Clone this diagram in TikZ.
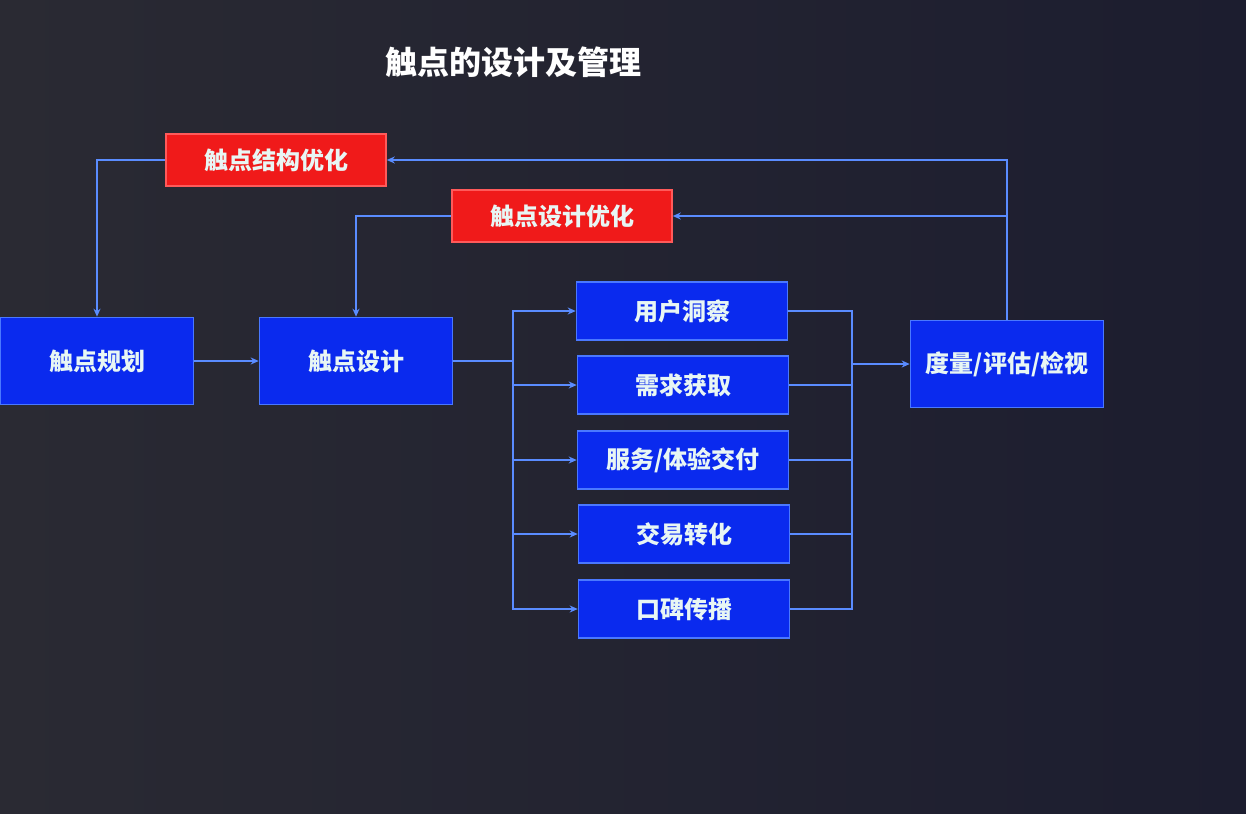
\documentclass[tikz,border=0pt]{standalone}
\usepackage{fontspec}
\newfontfamily\cjk{Noto Sans CJK SC}
\definecolor{screen}{HTML}{1C1D2F}
\definecolor{screenleft}{HTML}{2A2A33}
\definecolor{boxblue}{HTML}{0A2AEE}
\definecolor{edgeblue}{HTML}{4A78FF}
\definecolor{boxred}{HTML}{F01A1A}
\definecolor{edgered}{HTML}{FF5A5A}
\definecolor{wire}{HTML}{5A8CFF}
\definecolor{label}{HTML}{E8F6F4}
\usetikzlibrary{arrows.meta}
\begin{document}
\begin{tikzpicture}[x=0.5pt,y=-0.5pt,>={Stealth[length=4pt,width=3.5pt]}]

  \tikzstyle{bluebox}=[draw=edgeblue,fill=boxblue,line width=0.8pt,text=label,font=\cjk\bfseries\fontsize{12}{14}\selectfont,inner sep=0pt]
  \tikzstyle{redbox}=[draw=edgered,fill=boxred,line width=0.8pt,text=label,font=\cjk\bfseries\fontsize{12}{14}\selectfont,inner sep=0pt,minimum width=110pt,minimum height=26pt]
  \tikzstyle{stepbox}=[bluebox,minimum width=105.5pt,minimum height=29pt]
  \tikzstyle{mainbox}=[bluebox,minimum width=96.5pt,minimum height=43.5pt]
  \tikzstyle{wire}=[draw=wire,line width=0.8pt]

  % screen
  \shade[left color=screenleft,right color=screen] (0,0) rectangle (1246,813);
  \useasboundingbox (0,0) rectangle (1246,813);

  \node[text=white,font=\cjk\bfseries\fontsize{16}{18}\selectfont] (title) at (513,62) {触点的设计及管理};

  \node[redbox] (structopt) at (276,160) {触点结构优化};
  \node[redbox] (designopt) at (562,216) {触点设计优化};

  \node[mainbox] (plan) at (97,361) {触点规划};
  \node[mainbox] (design) at (356,361) {触点设计};
  \node[mainbox] (measure) at (1007,364) {度量/评估/检视};

  \node[stepbox] (s1) at (682,311) {用户洞察};
  \node[stepbox] (s2) at (683,385) {需求获取};
  \node[stepbox] (s3) at (683,460) {服务/体验交付};
  \node[stepbox] (s4) at (684,534) {交易转化};
  \node[stepbox] (s5) at (684,609) {口碑传播};

  \coordinate (fanout) at (513,361);
  \coordinate (fanin) at (852,364);
  \coordinate (up) at (1006,216);

  % feedback loops
  \draw[wire,->] (structopt.west) -| (plan.north);
  \draw[wire,->] (designopt.west) -| (design.north);
  \draw[wire,->] (measure.north) |- (structopt.east);
  \draw[wire,->] (up) -- (designopt.east);

  \draw[wire,->] (plan) -- (design);
  \draw[wire] (design.east) -- (fanout);

  \foreach \s in {s1,s2,s3,s4,s5}{
    \draw[wire,->] (fanout) |- (\s.west);
    \draw[wire] (\s.east) -| (fanin);
  }
  \draw[wire,->] (fanin) -- (measure.west);

\end{tikzpicture}
\end{document}
